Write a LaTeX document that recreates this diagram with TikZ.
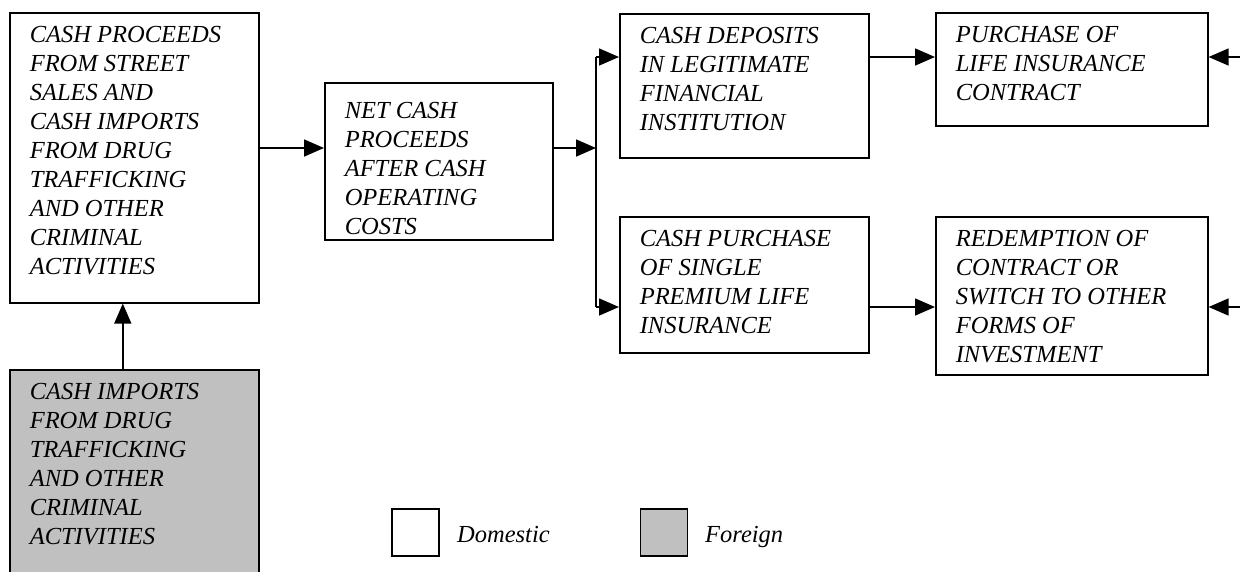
\documentclass[tikz,border=0pt]{standalone}
\usepackage{fontspec}
\setmainfont{Liberation Serif}
\usetikzlibrary{arrows.meta}
\definecolor{foreigngrey}{RGB}{192,192,192}
% text of a box: fixed width and height, set from the top
\newcommand{\flowtext}[4][30pt]{\parbox[c][#3][t]{#2}{\raggedright\rule{0pt}{#1}#4}}
\begin{document}
\begin{tikzpicture}[x=1pt,y=-1pt,
    font=\itshape\fontsize{24.5}{29}\selectfont,
    flowbox/.style={draw, line width=1.6pt, anchor=north west, inner xsep=20pt, inner ysep=0pt, fill=white},
    flow/.style={line width=1.6pt, -{Triangle[length=20pt,width=17pt]}},
    keybox/.style={draw, line width=1.6pt, minimum size=47pt, inner sep=0pt}]
    \useasboundingbox (0,0) rectangle (1240,571);
    % boxes
    \node[flowbox] (proceeds) at (9,12) {\flowtext{209pt}{290pt}{CASH PROCEEDS\\FROM STREET\\SALES AND\\CASH IMPORTS\\FROM DRUG\\TRAFFICKING\\AND OTHER\\CRIMINAL\\ACTIVITIES}};
    \node[flowbox, fill=foreigngrey] (imports) at (9,369) {\flowtext{209pt}{250pt}{CASH IMPORTS\\FROM DRUG\\TRAFFICKING\\AND OTHER\\CRIMINAL\\ACTIVITIES}};
    \node[flowbox] (net) at (324,82) {\flowtext[36pt]{188pt}{157pt}{NET CASH\\PROCEEDS\\AFTER CASH\\OPERATING\\COSTS}};
    \node[flowbox] (deposits) at (619,13) {\flowtext{209pt}{144pt}{CASH DEPOSITS\\IN LEGITIMATE\\FINANCIAL\\INSTITUTION}};
    \node[flowbox] (single) at (619,216) {\flowtext{209pt}{136pt}{CASH PURCHASE\\OF SINGLE\\PREMIUM LIFE\\INSURANCE}};
    \node[flowbox] (contract) at (935,12) {\flowtext{232pt}{113pt}{PURCHASE OF\\LIFE INSURANCE\\CONTRACT}};
    \node[flowbox] (redeem) at (935,216) {\flowtext{232pt}{158pt}{REDEMPTION OF\\CONTRACT OR\\SWITCH TO OTHER\\FORMS OF\\INVESTMENT}};
    % split point and free ends
    \coordinate (split) at (596,148);
    \coordinate (up) at (596,57);
    \coordinate (down) at (596,307);
    \coordinate (inF) at (1240,57);
    \coordinate (inG) at (1240,307);
    % connectors
    \draw[flow] ([xshift=-11.5pt]imports.north) -- ([xshift=-11.5pt]proceeds.south);
    \draw[flow] (proceeds.east |- split) -- (net.west |- split);
    \draw[flow] (net.east |- split) -- (split);
    \draw[line width=1.6pt] (up) -- (down);
    \draw[flow] (up) -- (deposits.west |- up);
    \draw[flow] (down) -- (single.west |- down);
    \draw[flow] (deposits.east |- up) -- (contract.west |- up);
    \draw[flow] (single.east |- down) -- (redeem.west |- down);
    \draw[flow] (inF) -- (contract.east |- inF);
    \draw[flow] (inG) -- (redeem.east |- inG);
    % legend
    \node[keybox] (domkey) at (415.5,532.5) {};
    \node[anchor=base west, inner sep=0pt] (domlabel) at (457,542) {Domestic};
    \node[keybox, fill=foreigngrey] (forkey) at (664,532.5) {};
    \node[anchor=base west, inner sep=0pt] (forlabel) at (705,542) {Foreign};
\end{tikzpicture}
\end{document}
